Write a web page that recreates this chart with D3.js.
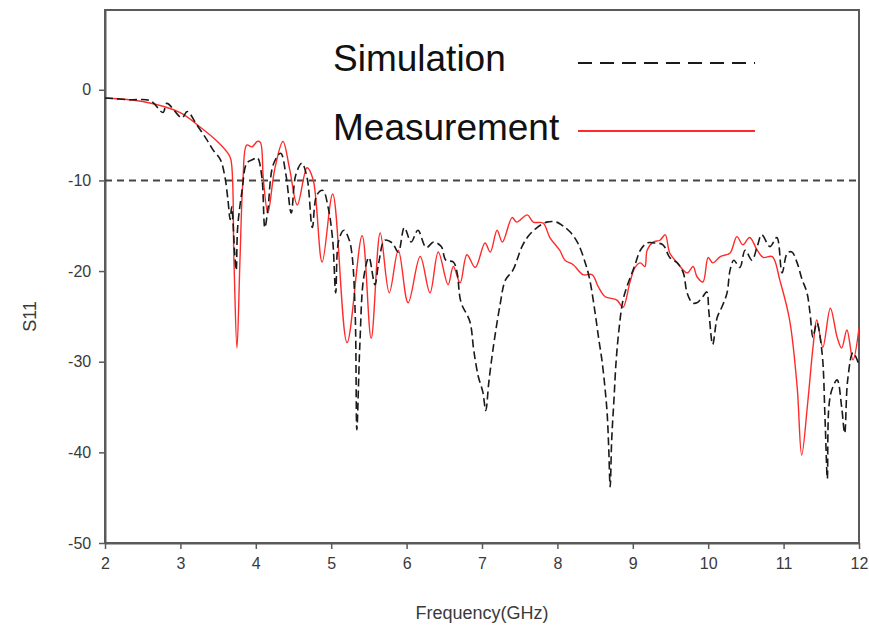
<!DOCTYPE html>
<html>
<head>
<meta charset="utf-8">
<script src="https://cdn.jsdelivr.net/npm/d3@7"></script>
<style>
  html, body { margin: 0; padding: 0; background: #fff; }
  svg { display: block; font-family: "Liberation Sans", Arial, sans-serif; }
</style>
</head>
<body>
<svg id="chart" width="869" height="633"></svg>
<script>
// Reflection coefficient S11 (dB) versus frequency (GHz)
const xTicks = [2, 3, 4, 5, 6, 7, 8, 9, 10, 11, 12];
const yTicks = [0, -10, -20, -30, -40, -50];
const threshold = -10;

const seriesNames = ["Simulation", "Measurement"];

// Simulated response
const simFreq = [2.00, 2.33, 2.60, 2.77, 2.82, 3.02, 3.09, 3.22, 3.35, 3.43, 3.53, 3.59, 3.63, 3.66, 3.68, 3.72, 3.74, 3.76, 3.82, 3.88,
  3.96, 4.02, 4.08, 4.12, 4.16, 4.23, 4.33, 4.40, 4.47, 4.53, 4.61, 4.68, 4.75, 4.81, 4.89, 4.96, 5.02, 5.06, 5.10, 5.17,
  5.24, 5.28, 5.32, 5.34, 5.38, 5.43, 5.50, 5.58, 5.63, 5.71, 5.81, 5.89, 5.97, 6.06, 6.15, 6.26, 6.36, 6.46, 6.52, 6.62,
  6.67, 6.72, 6.84, 6.89, 6.95, 7.01, 7.05, 7.09, 7.15, 7.24, 7.31, 7.41, 7.53, 7.61, 7.73, 7.86, 7.99, 8.07, 8.17, 8.27,
  8.37, 8.43, 8.50, 8.55, 8.59, 8.63, 8.66, 8.68, 8.70, 8.72, 8.75, 8.78, 8.82, 8.87, 8.94, 9.03, 9.10, 9.19, 9.29, 9.40,
  9.49, 9.59, 9.67, 9.72, 9.79, 9.85, 9.93, 9.98, 10.01, 10.06, 10.12, 10.18, 10.25, 10.29, 10.34, 10.42, 10.49, 10.58, 10.65, 10.71,
  10.82, 10.91, 10.98, 11.05, 11.11, 11.18, 11.24, 11.31, 11.35, 11.39, 11.44, 11.51, 11.55, 11.58, 11.60, 11.64, 11.71, 11.77, 11.81, 11.85,
  11.92, 11.99];
const simS11 = [-0.9, -1.1, -1.2, -2.5, -1.5, -3.1, -2.4, -3.9, -5.5, -6.6, -7.7, -9.6, -12.1, -14.3, -12.9, -18.0, -19.9, -15.1, -11.0, -8.1,
  -7.7, -7.5, -9.6, -15.2, -13.2, -8.3, -7.0, -9.4, -13.6, -9.4, -8.1, -9.7, -15.2, -11.6, -11.1, -13.0, -16.6, -22.4, -16.6, -15.5,
  -16.6, -18.5, -25.2, -37.5, -28.1, -20.8, -18.5, -21.5, -19.1, -16.6, -16.9, -17.9, -15.2, -16.8, -15.5, -17.4, -16.8, -17.3, -18.8, -19.0,
  -20.2, -23.4, -25.6, -28.7, -31.6, -33.3, -35.4, -32.3, -28.4, -23.7, -21.0, -19.9, -17.3, -16.2, -15.2, -14.6, -14.6, -15.0, -15.7, -16.9,
  -19.1, -21.0, -24.6, -27.6, -29.8, -32.8, -35.7, -39.4, -43.8, -38.6, -34.2, -29.8, -26.2, -23.2, -21.3, -19.3, -17.7, -16.9, -16.9, -17.1,
  -18.5, -19.1, -20.2, -22.4, -23.5, -23.5, -22.8, -22.3, -24.6, -28.1, -25.1, -24.0, -22.4, -19.9, -18.8, -19.6, -17.7, -18.8, -17.3, -16.0,
  -17.3, -16.3, -20.2, -18.0, -17.9, -19.1, -20.8, -22.4, -24.6, -27.3, -25.7, -29.0, -36.4, -42.9, -35.0, -33.1, -32.0, -35.0, -37.9, -32.0,
  -29.0, -30.1];

// Measured response
const measFreq = [2.00, 2.50, 2.99, 3.26, 3.49, 3.63, 3.67, 3.71, 3.75, 3.79, 3.83, 3.88, 3.95, 4.02, 4.06, 4.10, 4.16, 4.25, 4.36, 4.45,
  4.55, 4.68, 4.76, 4.88, 5.02, 5.21, 5.41, 5.53, 5.65, 5.77, 5.89, 6.02, 6.18, 6.31, 6.42, 6.55, 6.62, 6.71, 6.80, 6.91,
  7.04, 7.11, 7.20, 7.27, 7.40, 7.46, 7.60, 7.68, 7.81, 7.90, 8.03, 8.10, 8.21, 8.34, 8.46, 8.54, 8.63, 8.79, 8.87, 8.96,
  9.03, 9.10, 9.16, 9.19, 9.27, 9.36, 9.43, 9.49, 9.59, 9.72, 9.80, 9.85, 9.93, 10.00, 10.06, 10.16, 10.29, 10.38, 10.46, 10.55,
  10.65, 10.73, 10.85, 10.95, 11.08, 11.18, 11.24, 11.32, 11.39, 11.44, 11.52, 11.62, 11.71, 11.77, 11.84, 11.92, 12.00];
const measS11 = [-0.9, -1.3, -2.5, -4.1, -5.7, -7.0, -7.7, -18.8, -28.5, -18.8, -9.9, -6.1, -6.3, -5.7, -5.8, -9.9, -13.6, -8.8, -5.7, -8.8,
  -12.7, -8.6, -9.9, -19.0, -11.5, -27.9, -16.1, -27.4, -15.8, -22.4, -17.7, -23.5, -18.4, -22.4, -17.9, -21.5, -19.5, -21.3, -18.2, -19.6,
  -16.9, -17.9, -15.5, -16.8, -14.1, -14.6, -13.8, -14.6, -14.7, -16.3, -17.7, -18.8, -19.3, -20.4, -20.4, -21.7, -22.8, -23.2, -24.0, -21.3,
  -19.6, -19.1, -19.5, -17.7, -16.8, -16.6, -16.0, -18.0, -19.1, -20.2, -19.5, -20.6, -21.2, -18.5, -19.1, -18.4, -18.0, -16.2, -17.1, -16.3,
  -17.7, -18.5, -18.4, -21.0, -25.4, -32.8, -40.3, -34.5, -28.4, -25.4, -28.4, -24.1, -27.3, -28.5, -26.5, -29.8, -26.3];

const svg = d3.select("#chart");
const W = 869, H = 633;
const margin = { left: 105, right: 10, top: 10, bottom: 90 };
const plotW = W - margin.left - margin.right;
const plotH = H - margin.top - margin.bottom;

const x = d3.scaleLinear().domain([2, 12]).range([margin.left, margin.left + plotW]);
const y = d3.scaleLinear().domain([-50, 8.8]).range([margin.top + plotH, margin.top]);

const axisColor = "#5a5a5a";
const labelColor = "#3a3a3a";

// Plot frame
svg.append("rect")
  .attr("x", x(2)).attr("y", y(8.8))
  .attr("width", x(12) - x(2)).attr("height", y(-50) - y(8.8))
  .attr("fill", "none").attr("stroke", axisColor).attr("stroke-width", 2);

// Axes
const xAxis = d3.axisBottom(x).tickValues(xTicks).tickSize(6).tickSizeOuter(0).tickFormat(d3.format("d"));
const yAxis = d3.axisLeft(y).tickValues(yTicks).tickSize(6).tickSizeOuter(0).tickFormat(d => d3.format("d")(d).replace("\u2212", "-"));

const gx = svg.append("g").attr("transform", `translate(0,${y(-50)})`).call(xAxis);
const gy = svg.append("g").attr("transform", `translate(${x(2)},0)`).call(yAxis);
[gx, gy].forEach(g => {
  g.select(".domain").attr("stroke", axisColor).attr("stroke-width", 2);
  g.selectAll(".tick line").attr("stroke", axisColor).attr("stroke-width", 1.5);
  g.selectAll(".tick text").attr("fill", labelColor).attr("font-size", 16)
    .attr("font-family", "'Liberation Sans', Arial, sans-serif");
});
gx.selectAll(".tick text").attr("dy", "1.05em");
gy.selectAll(".tick text").attr("dx", "-0.3em");

// Axis titles
svg.append("text")
  .attr("x", (x(2) + x(12)) / 2).attr("y", 619)
  .attr("text-anchor", "middle").attr("font-size", 18).attr("fill", labelColor)
  .text("Frequency(GHz)");
svg.append("text")
  .attr("transform", `translate(36,${(y(0) + y(-50)) / 2}) rotate(-90)`)
  .attr("text-anchor", "middle").attr("font-size", 18).attr("fill", labelColor)
  .text("S11");

// -10 dB reference
svg.append("line")
  .attr("x1", x(2)).attr("x2", x(12))
  .attr("y1", y(threshold)).attr("y2", y(threshold))
  .attr("stroke", "#444").attr("stroke-width", 2).attr("stroke-dasharray", "7,5");

svg.append("clipPath").attr("id", "plotclip").append("rect")
  .attr("x", x(2)).attr("y", y(8.8)).attr("width", x(12) - x(2)).attr("height", y(-50) - y(8.8));

const simData = simFreq.map((f, i) => [f, simS11[i]]);
const measData = measFreq.map((f, i) => [f, measS11[i]]);

const simLine = d3.line().x(d => x(d[0])).y(d => y(d[1])).curve(d3.curveCatmullRom.alpha(0.5));
const measLine = d3.line().x(d => x(d[0])).y(d => y(d[1])).curve(d3.curveCatmullRom.alpha(0.5));

const plot = svg.append("g").attr("clip-path", "url(#plotclip)");
plot.append("path").datum(measData).attr("d", measLine)
  .attr("fill", "none").attr("stroke", "#ff2b2b").attr("stroke-width", 1.4);
plot.append("path").datum(simData).attr("d", simLine)
  .attr("fill", "none").attr("stroke", "#1a1a1a").attr("stroke-width", 1.6)
  .attr("stroke-dasharray", "8,4");

// Legend
const legend = svg.append("g");
const legendRows = [
  { name: seriesNames[0], ty: 71, ly: 63, stroke: "#1a1a1a", dash: "14,8", w: 1.8 },
  { name: seriesNames[1], ty: 140, ly: 131, stroke: "#ff2b2b", dash: null, w: 1.8 }
];
legendRows.forEach(r => {
  legend.append("text").attr("x", 333).attr("y", r.ty)
    .attr("font-size", 37).attr("fill", "#111").text(r.name);
  legend.append("line").attr("x1", 578).attr("x2", 755).attr("y1", r.ly).attr("y2", r.ly)
    .attr("stroke", r.stroke).attr("stroke-width", r.w)
    .attr("stroke-dasharray", r.dash);
});
</script>
</body>
</html>
